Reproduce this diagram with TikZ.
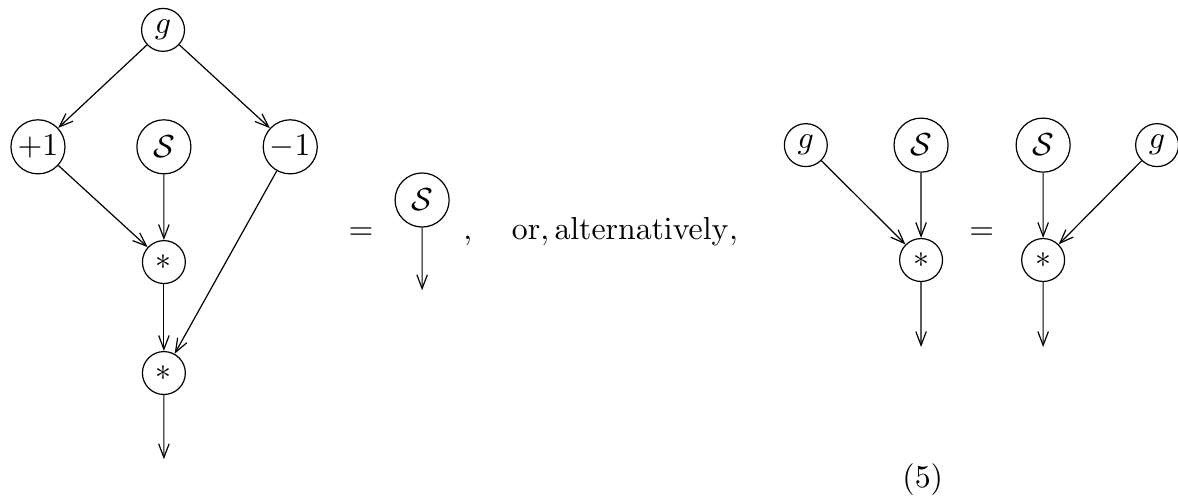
\documentclass[tikz,border=0pt]{standalone}
\usepackage{tikz}
\usetikzlibrary{arrows.meta}

\begin{document}
\begin{tikzpicture}[>={Straight Barb[length=4.6pt,width=3.5pt]}, line width=0.4pt,
	every node/.style={scale=1.06},
	vtx/.style={circle, draw, inner sep=0.5pt, minimum size=13.5pt},
	bigvtx/.style={circle, draw, inner sep=0.5pt, minimum size=17pt}]
	\useasboundingbox (0,0) rectangle (13.80,-5.80);

% left side
	\node[vtx] (g) at (1.91,-0.35) {$g$};
	\node[bigvtx] (plus) at (0.445,-1.72) {$+1$};
	\node[bigvtx] (S) at (1.92,-1.72) {$\mathcal{S}$};
	\node[bigvtx] (minus) at (3.40,-1.72) {$-1$};
	\node[vtx] (m1) at (1.92,-3.07) {$*$};
	\node[vtx] (m2) at (1.92,-4.37) {$*$};
	\coordinate (outA) at (1.92,-5.38);

	\draw[->] (g) -- (plus);
	\draw[->] (g) -- (minus);
	\draw[->] (plus) -- (m1);
	\draw[->] (S) -- (m1);
	\draw[->] (m1) -- (m2);
	\draw[->] (minus) -- (m2);
	\draw[->] (m2) -- (outA);

% middle
	\node[anchor=base] (eqA) at (4.23,-2.81) {$=$};
	\node[bigvtx] (Sm) at (4.945,-2.343) {$\mathcal{S}$};
	\coordinate (outB) at (4.945,-3.40);
	\draw[->] (Sm) -- (outB);
	\node[anchor=base west, inner sep=0pt] (comma) at (5.42,-2.81) {$,$};
	\node[anchor=base west, inner sep=0pt] (alt) at (5.99,-2.81) {$\mathrm{or, alternatively,}$};

% right side
	\node[vtx] (gL) at (9.44,-1.70) {$g$};
	\node[bigvtx] (SL) at (10.79,-1.70) {$\mathcal{S}$};
	\node[vtx] (mL) at (10.79,-3.046) {$*$};
	\coordinate (outL) at (10.79,-4.065);
	\node[anchor=base] (eqB) at (11.50,-2.81) {$=$};
	\node[bigvtx] (SR) at (12.22,-1.70) {$\mathcal{S}$};
	\node[vtx] (gR) at (13.555,-1.70) {$g$};
	\node[vtx] (mR) at (12.22,-3.046) {$*$};
	\coordinate (outR) at (12.22,-4.065);

	\draw[->] (gL) -- (mL);
	\draw[->] (SL) -- (mL);
	\draw[->] (mL) -- (outL);
	\draw[->] (SR) -- (mR);
	\draw[->] (gR) -- (mR);
	\draw[->] (mR) -- (outR);

	\node[anchor=base] (num) at (10.81,-5.71) {(5)};
\end{tikzpicture}
\end{document}
